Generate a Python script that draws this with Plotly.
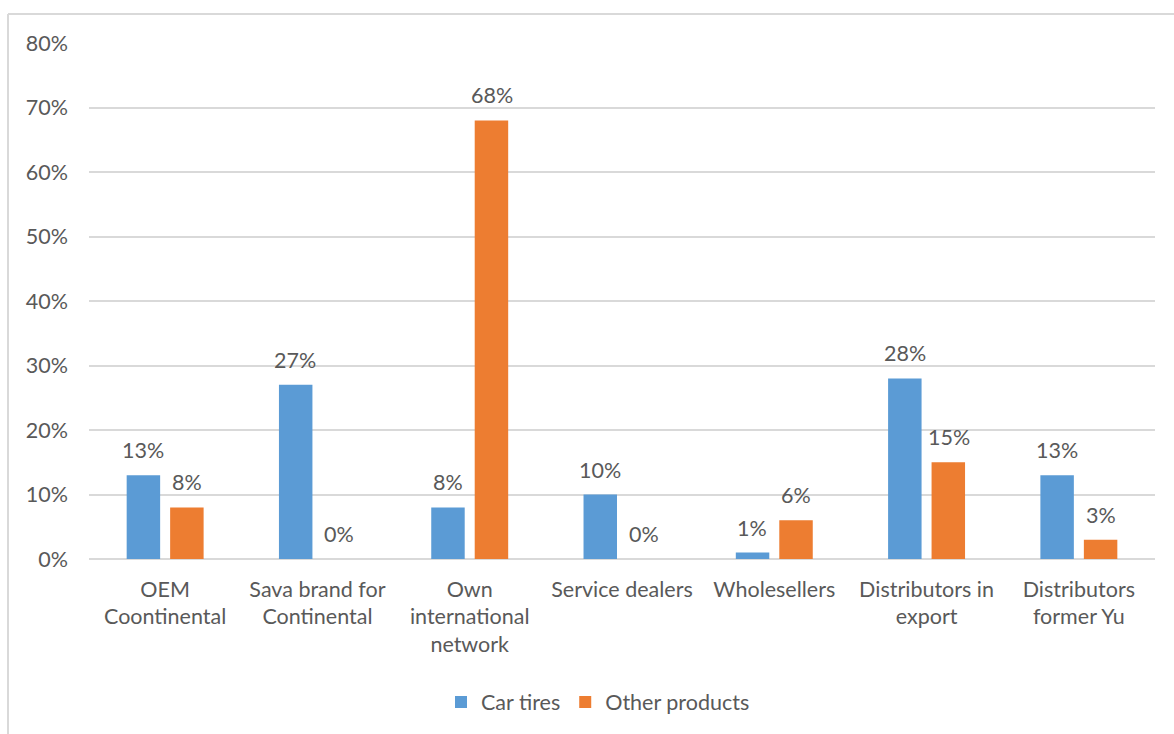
import plotly.graph_objects as go

categories = ["OEM<br>Coontinental", "Sava brand for<br>Continental", "Own<br>international<br>network",
              "Service dealers", "Wholesellers", "Distributors in<br>export", "Distributors<br>former Yu"]
car_tires = [0.13, 0.27, 0.08, 0.10, 0.01, 0.28, 0.13]
other_products = [0.08, 0.00, 0.68, 0.00, 0.06, 0.15, 0.03]
y_ticks = [0, 0.1, 0.2, 0.3, 0.4, 0.5, 0.6, 0.7, 0.8]

BLUE = "#5B9BD5"
ORANGE = "#ED7D31"
GRID = "#D9D9D9"
TXT = "#595959"
FONT = "Lato"
FS = 21.5

fig = go.Figure()
fig.add_trace(go.Bar(x=categories, y=car_tires, name="Car tires", marker=dict(color=BLUE, line=dict(width=0))))
fig.add_trace(go.Bar(x=categories, y=other_products, name="Other products", marker=dict(color=ORANGE, line=dict(width=0))))

annotations = []
for series, shift in ((car_tires, -22), (other_products, 22)):
    for c, v in zip(categories, series):
        annotations.append(dict(x=c, y=v, xref="x", yref="y", text=f"{round(v*100)}%",
                                showarrow=False, xshift=shift, yshift=10, yanchor="bottom",
                                font=dict(family=FONT, size=FS, color=TXT)))

L, R, T, B = 89, 19, 43, 175
W, H = 1174, 734
pw, ph = W - L - R, H - T - B
bx = (8 - L) / pw
by = 1 + (T - 14) / ph

fig.update_layout(
    width=W, height=H,
    margin=dict(l=L, r=R, t=T, b=B, pad=0),
    paper_bgcolor="white", plot_bgcolor="white",
    barmode="group", bargap=0.429, bargroupgap=0.23,
    font=dict(family=FONT, size=FS, color=TXT),
    showlegend=True,
    legend=dict(orientation="h", x=(598 - L) / pw, xanchor="center", y=(559 - 702) / ph, yanchor="middle",
                font=dict(family=FONT, size=FS, color=TXT), itemwidth=30, traceorder="normal"),
    annotations=annotations,
    shapes=[
        dict(type="line", xref="paper", yref="paper", x0=bx, x1=1.2, y0=by, y1=by, line=dict(color=GRID, width=2)),
        dict(type="line", xref="paper", yref="paper", x0=bx, x1=bx, y0=by, y1=-0.5, line=dict(color=GRID, width=2)),
    ],
    xaxis=dict(showgrid=False, showline=False, ticks="", tickfont=dict(family=FONT, size=FS, color=TXT),
               ticklabelstandoff=15),
    yaxis=dict(range=[0, 0.8], tickvals=y_ticks, tickformat=".0%", showgrid=True, gridcolor=GRID, gridwidth=2,
               zeroline=True, zerolinecolor=GRID, zerolinewidth=2, showline=False, ticks="",
               tickfont=dict(family=FONT, size=FS, color=TXT), ticklabelstandoff=20),
)

fig.write_html("out.html")
